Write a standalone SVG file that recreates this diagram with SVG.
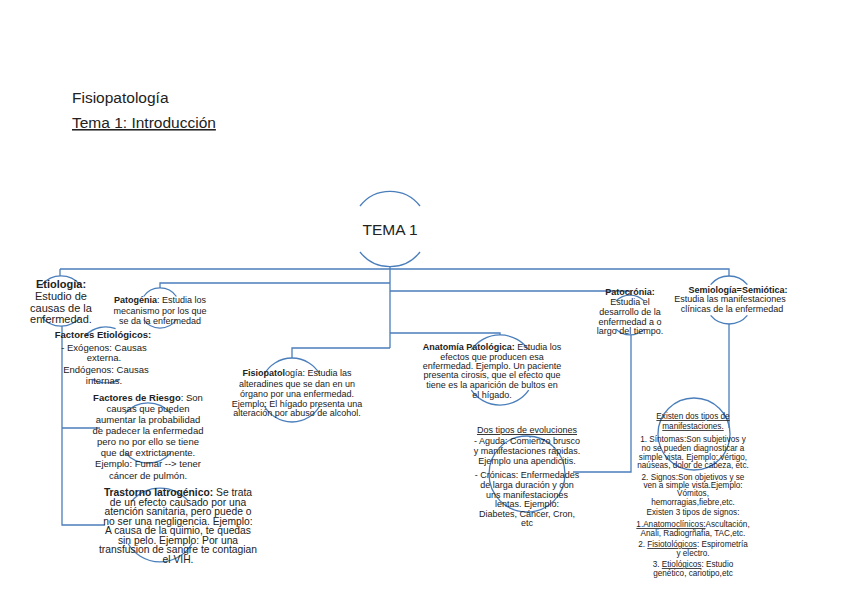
<svg xmlns="http://www.w3.org/2000/svg" width="848" height="599" viewBox="0 0 848 599">
<style>
text{font-family:"Liberation Sans",Arial,sans-serif;fill:#222;}
.t{font-size:15.5px;}
.n{text-anchor:middle;font-size:9.5px;}
.s9{font-size:9px;}
.s8{font-size:8.2px;}
.s11{font-size:11px;}
.b{font-weight:bold;}
.u{text-decoration:underline;}
.c{fill:none;stroke:#4A7EBB;stroke-width:1.3;}
.l{fill:none;stroke:#4A7EBB;stroke-width:1.3;}
</style>
<rect width="848" height="599" fill="#fff"/>
<text class="t" x="72" y="103">Fisiopatología</text>
<text class="t u" x="72" y="128">Tema 1: Introducción</text>

<g id="connectors">
<path class="l" d="M390 267V348M60 269H729V276M60 269V276"/>
<path class="l" d="M390 283H160V288"/>
<path class="l" d="M390 291H630V295"/>
<path class="l" d="M390 333H500V335"/>
<path class="l" d="M390 348H292V358"/>
<path class="l" d="M62 326V525H105M62 428H100"/>
<path class="l" d="M631 335V472H573"/>
<path class="l" d="M729 324V428"/>
</g>

<g id="tema1">
<path class="c" d="M360 206A38 38 0 0 1 420 206M360 252A38 38 0 0 0 420 252"/>
<text x="390" y="235" text-anchor="middle" style="font-size:15.5px">TEMA 1</text>
</g>

<g id="etiologia">
<path class="c" d="M41.8 284.9A25 25 0 0 1 80.2 284.9M41.8 317.1A25 25 0 0 0 80.2 317.1"/>
<text class="n s11"><tspan x="61" y="288" class="b">Etiología:</tspan><tspan x="61" y="300">Estudio de</tspan><tspan x="61" y="312">causas de la</tspan><tspan x="61" y="323">enfermedad.</tspan></text>
</g>

<g id="patogenia">
<path class="c" d="M143.6 296.5A20 20 0 0 1 176.4 296.5M143.6 319.5A20 20 0 0 0 176.4 319.5"/>
<text class="n s9"><tspan x="160" y="303"><tspan class="b">Patogénia</tspan>: Estudia los</tspan><tspan x="160" y="314">mecanismo por los que</tspan><tspan x="160" y="324">se da la enfermedad</tspan></text>
</g>

<g id="factores-etiologicos">
<path class="c" d="M86 335A28 28 0 0 1 115.6 328.7M120 379.2A28 28 0 0 1 92 379.2"/>
<text class="n"><tspan x="103" y="338" class="b">Factores Etiológicos:</tspan><tspan x="104" y="351">- Exógenos: Causas</tspan><tspan x="104" y="361">externa.</tspan><tspan x="106" y="373">Endógenos: Causas</tspan><tspan x="104" y="384">internas.</tspan></text>
</g>

<g id="factores-riesgo">
<path class="c" d="M125 413.7A30 30 0 0 1 171 413.7M125 452.3A30 30 0 0 0 171 452.3"/>
<text class="n"><tspan x="148" y="401"><tspan class="b">Factores de Riesgo</tspan>: Son</tspan><tspan x="148" y="412">causas que pueden</tspan><tspan x="148" y="423">aumentar la probabilidad</tspan><tspan x="148" y="434">de padecer la enfermedad</tspan><tspan x="148" y="445">pero no por ello se tiene</tspan><tspan x="148" y="456">que dar extrictamente.</tspan><tspan x="148" y="467">Ejemplo: Fumar --&gt; tener</tspan><tspan x="148" y="479">cáncer de pulmón.</tspan></text>
</g>

<g id="trastorno">
<path class="c" d="M131.7 501.2A37 37 0 0 1 188.3 501.2M128 543.5A37 37 0 0 0 192 543.5"/>
<text class="n" style="font-size:10.3px"><tspan x="178" y="496"><tspan class="b">Trastorno Iatrogénico:</tspan> Se trata</tspan><tspan x="178" y="505.5">de un efecto causado por una</tspan><tspan x="178" y="515">atención sanitaria, pero puede o</tspan><tspan x="178" y="524.5">no ser una negligencia. Ejemplo:</tspan><tspan x="178" y="534">A causa de la quimio, te quedas</tspan><tspan x="178" y="543.5">sin pelo. Ejemplo: Por una</tspan><tspan x="178" y="553">transfusion de sangre te contagian</tspan><tspan x="178" y="562.5">el VIH.</tspan></text>
</g>

<g id="fisiopatologia">
<path class="c" d="M264.3 374A32 32 0 0 1 319.7 374M264.3 406A32 32 0 0 0 319.7 406"/>
<text class="n s9"><tspan x="297" y="376"><tspan class="b">Fisiopatol</tspan>ogía: Estudia las</tspan><tspan x="297" y="387">alteradines que se dan en un</tspan><tspan x="297" y="397">órgano por una enfermedad.</tspan><tspan x="297" y="407">Ejemplo: El hígado presenta una</tspan><tspan x="297" y="416">alteración por abuso de alcohol.</tspan></text>
</g>

<g id="anatomia">
<path class="c" d="M471.3 349.9A35 35 0 0 1 528.7 349.9M471.3 390.1A35 35 0 0 0 528.7 390.1"/>
<text class="n s9"><tspan x="492" y="350"><tspan class="b">Anatomía Patológica:</tspan> Estudia los</tspan><tspan x="492" y="360">efectos que producen esa</tspan><tspan x="492" y="369">enfermedad. Ejemplo. Un paciente</tspan><tspan x="492" y="378">presenta cirosis, que el efecto que</tspan><tspan x="492" y="388">tiene es la aparición de bultos en</tspan><tspan x="492" y="398">el hígado.</tspan></text>
</g>

<g id="evoluciones">
<circle class="c" cx="527" cy="474" r="38"/>
<text class="n s9"><tspan x="527" y="433" class="u">Dos tipos de evoluciones</tspan><tspan x="527" y="444">- Aguda: Comienzo brusco</tspan><tspan x="527" y="454">y manifestaciones rápidas.</tspan><tspan x="527" y="464">Ejemplo una apendicitis.</tspan><tspan x="527" y="478">- Crónicas: Enfermedades</tspan><tspan x="527" y="488">de larga duración y con</tspan><tspan x="527" y="498">uns manifestaciones</tspan><tspan x="527" y="507">lentas. Ejemplo:</tspan><tspan x="527" y="517">Diabetes, Cáncer, Cron,</tspan><tspan x="527" y="526">etc</tspan></text>
</g>

<g id="patocronia">
<path class="c" d="M615.9 300.9A20 20 0 0 1 644.1 300.9M615.9 329.1A20 20 0 0 0 644.1 329.1"/>
<text class="n s9"><tspan x="630" y="295" class="b">Patocrónia:</tspan><tspan x="630" y="305">Estudia el</tspan><tspan x="630" y="315">desarrollo de la</tspan><tspan x="630" y="325">enfermedad a o</tspan><tspan x="630" y="334">largo del tiempo.</tspan></text>
</g>

<g id="semiologia">
<path class="c" d="M710.6 284.6A24 24 0 0 1 747.4 284.6M710.6 315.4A24 24 0 0 0 747.4 315.4"/>
<text class="n s9"><tspan x="738" y="293" class="b">Semiología=Semiótica:</tspan><tspan x="730" y="302">Estudia las manifestaciones</tspan><tspan x="732" y="312">clínicas de la enfermedad</tspan></text>
</g>

<g id="manifestaciones">
<circle class="c" cx="694" cy="434" r="36"/>
<text class="n s8"><tspan x="693" y="419" class="u">Existen dos tipos de</tspan><tspan x="693" y="429" class="u">manifestaciones.</tspan><tspan x="693" y="442">1. Síntomas:Son subjetivos y</tspan><tspan x="693" y="451">no se pueden diagnosticar a</tspan><tspan x="693" y="460">simple vista. Ejemplo: vértigo,</tspan><tspan x="693" y="468">naúseas, dolor de cabeza, etc.</tspan><tspan x="693" y="480">2. Signos:Son objetivos y se</tspan><tspan x="693" y="488">ven a simple vista.Ejemplo:</tspan><tspan x="693" y="496">Vómitos,</tspan><tspan x="693" y="505">hemorragias,fiebre,etc.</tspan><tspan x="693" y="515">Existen 3 tipos de signos:</tspan><tspan x="693" y="527"><tspan class="u">1.Anatomoclínicos:</tspan>Ascultación,</tspan><tspan x="693" y="536">Anali, Radiogrñafia, TAC,etc.</tspan><tspan x="693" y="547">2. <tspan class="u">Fisiotológicos</tspan>: Espirometría</tspan><tspan x="693" y="556">y electro.</tspan><tspan x="693" y="567">3. <tspan class="u">Etiológicos</tspan>: Estudio</tspan><tspan x="693" y="576">genético, cariotipo,etc</tspan></text>
</g>
</svg>
